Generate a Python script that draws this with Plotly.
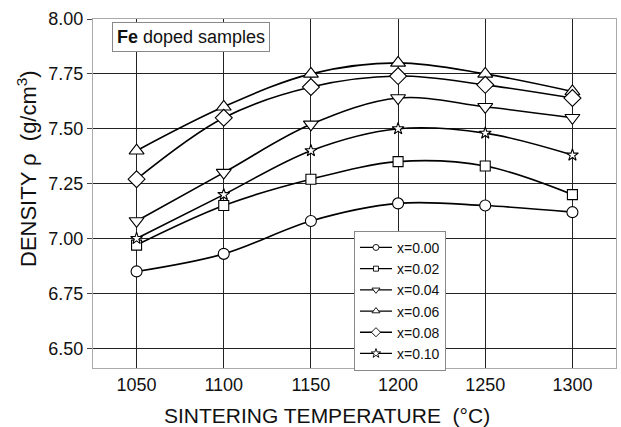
import plotly.graph_objects as go

temps = [1050, 1100, 1150, 1200, 1250, 1300]
labels = ["x=0.00", "x=0.02", "x=0.04", "x=0.06", "x=0.08", "x=0.10"]
rho_000 = [6.85, 6.93, 7.08, 7.16, 7.15, 7.12]
rho_002 = [6.97, 7.15, 7.27, 7.35, 7.33, 7.20]
rho_004 = [7.08, 7.30, 7.52, 7.64, 7.60, 7.55]
rho_006 = [7.40, 7.60, 7.75, 7.80, 7.75, 7.67]
rho_008 = [7.27, 7.55, 7.69, 7.74, 7.70, 7.64]
rho_010 = [7.00, 7.20, 7.40, 7.50, 7.48, 7.38]
y_ticks = [6.50, 6.75, 7.00, 7.25, 7.50, 7.75, 8.00]

series = [rho_000, rho_002, rho_004, rho_006, rho_008, rho_010]
symbols = ["circle", "square", "triangle-down", "triangle-up", "diamond", "star"]
sizes = [11, 10, 13, 13, 13, 9]
leg_sizes = [6, 5, 7, 7, 7, 7]

FONT = "Liberation Sans, Arial, sans-serif"
fig = go.Figure()
for ys, sym, sz in zip(series, symbols, sizes):
    fig.add_trace(go.Scatter(
        x=temps, y=ys, mode="lines+markers", showlegend=False,
        line=dict(color="black", width=1.6, shape="spline", smoothing=1.0),
        marker=dict(symbol=sym, size=sz, color="white",
                    line=dict(color="black", width=1.1)),
    ))
for name, sym, sz in zip(labels, symbols, leg_sizes):
    fig.add_trace(go.Scatter(
        x=[None], y=[None], mode="lines+markers", name=name,
        line=dict(color="black", width=1.3),
        marker=dict(symbol=sym, size=sz, color="white",
                    line=dict(color="black", width=0.9)),
    ))

fig.update_layout(
    width=621, height=427,
    margin=dict(l=93, r=5, t=19, b=59),
    paper_bgcolor="white", plot_bgcolor="white",
    font=dict(family=FONT, color="#111"),
    legend=dict(x=0.499, y=0.393, xanchor="left", yanchor="top",
                bordercolor="#888", borderwidth=1, bgcolor="white",
                font=dict(size=14, family=FONT), tracegroupgap=0,
                itemwidth=32),
    annotations=[
        dict(text="<b>Fe</b> doped samples", xref="paper", yref="paper",
             x=0.187, y=0.947, xanchor="center", yanchor="middle",
             showarrow=False, font=dict(size=18, family=FONT),
             bordercolor="#888", borderwidth=1, borderpad=4, bgcolor="white"),
        dict(text="SINTERING TEMPERATURE  (°C)", xref="paper", yref="paper",
             x=(327 - 93) / 523, y=-0.135, xanchor="center", yanchor="middle",
             showarrow=False, font=dict(size=21, family=FONT)),
        dict(text="DENSITY ρ  (g/cm<sup>3</sup>)", xref="paper", yref="paper",
             x=(27 - 93) / 523, y=(368 - 169) / 349, xanchor="center", yanchor="middle",
             textangle=-90, showarrow=False, font=dict(size=22, family=FONT)),
    ],
)
fig.update_xaxes(range=[1025, 1325], tickvals=temps, showgrid=True,
                 gridcolor="#222", gridwidth=1.4, zeroline=False,
                 showline=True, linecolor="#aaa", linewidth=1, mirror=True,
                 ticks="", tickfont=dict(size=18, family=FONT))
fig.update_yaxes(range=[6.41, 8.0], tickvals=y_ticks, tickformat=".2f",
                 showgrid=True, gridcolor="#222", gridwidth=1.4, zeroline=False,
                 showline=True, linecolor="#aaa", linewidth=1, mirror=True,
                 ticks="outside", ticklen=5, tickcolor="#444",
                 tickfont=dict(size=18, family=FONT))

fig.write_html("out.html")
